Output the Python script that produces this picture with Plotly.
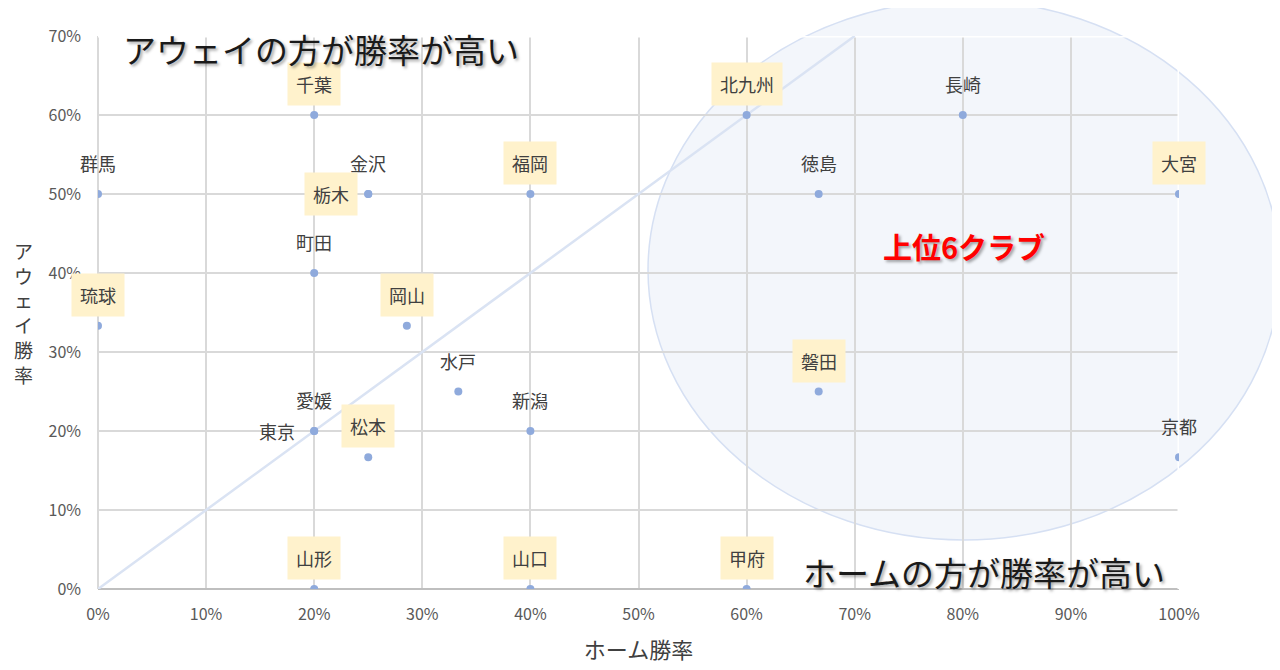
import plotly.graph_objects as go

# クラブ別 ホーム勝率 / アウェイ勝率
clubs = ["群馬", "琉球", "千葉", "町田", "愛媛", "東京", "山形", "金沢", "栃木", "松本",
         "岡山", "水戸", "福岡", "新潟", "山口", "北九州", "甲府", "徳島", "磐田", "長崎",
         "大宮", "京都"]
home_rate = [0.0, 0.0, 0.2, 0.2, 0.2, 0.2, 0.2, 0.25, 0.25, 0.25,
             2 / 7, 1 / 3, 0.4, 0.4, 0.4, 0.6, 0.6, 2 / 3, 2 / 3, 0.8,
             1.0, 1.0]
away_rate = [0.5, 1 / 3, 0.6, 0.4, 0.2, 0.2, 0.0, 0.5, 0.5, 1 / 6,
             1 / 3, 0.25, 0.5, 0.2, 0.0, 0.6, 0.0, 0.5, 0.25, 0.6,
             0.5, 1 / 6]
highlight = ["千葉", "琉球", "栃木", "松本", "岡山", "山形", "福岡", "山口",
             "北九州", "甲府", "磐田", "大宮"]
left_labels = ["栃木", "東京"]

diag_x = [0, 0.7]
diag_y = [0, 0.7]

font = "Noto Sans CJK JP"

fig = go.Figure()

# 対角線
fig.add_trace(go.Scatter(x=diag_x, y=diag_y, mode="lines",
                         line=dict(color="#dae3f3", width=2.5),
                         hoverinfo="skip", showlegend=False))

fig.add_trace(go.Scatter(x=home_rate, y=away_rate, mode="markers",
                         marker=dict(color="#8faadc", size=8),
                         text=clubs, showlegend=False))

# データラベル
for name, hx, ay in zip(clubs, home_rate, away_rate):
    hl = name in highlight
    if name in left_labels:
        xs, ys = -37, 0
    else:
        xs, ys = 0, 31
    fig.add_annotation(x=hx, y=ay, text=name, showarrow=False,
                       xshift=xs, yshift=ys, xanchor="center", yanchor="middle",
                       font=dict(family=font, size=18, color="#404040"),
                       bgcolor="#fff2cc" if hl else None,
                       borderpad=8 if hl else 2)

# 上位6クラブの円
fig.add_shape(type="circle", xref="paper", yref="paper",
              x0=0.5088, x1=1.0934, y0=0.0886, y1=1.065,
              fillcolor="rgba(218,227,243,0.32)",
              line=dict(color="#d6e0f3", width=1.5), layer="below")

# プロットエリアの上・右の縁 (白)
fig.add_shape(type="path", xref="x", yref="y", path="M 0,0.7 L 1,0.7 L 1,0",
              line=dict(color="white", width=3), layer="between")

shadow = "2px 2px 3px rgba(0,0,0,0.35)"
fig.add_annotation(xref="paper", yref="paper", x=0.206, y=0.977,
                   xanchor="center", yanchor="middle",
                   text="アウェイの方が勝率が高い", showarrow=False,
                   font=dict(family=font, size=33, color="#1a1a1a", shadow=shadow))
fig.add_annotation(xref="paper", yref="paper", x=0.8196, y=0.031,
                   xanchor="center", yanchor="middle",
                   text="ホームの方が勝率が高い", showarrow=False,
                   font=dict(family=font, size=33, color="#1a1a1a", shadow=shadow))
fig.add_annotation(xref="paper", yref="paper", x=0.801, y=0.62,
                   xanchor="center", yanchor="middle",
                   text="<b>上位6クラブ</b>", showarrow=False,
                   font=dict(family=font, size=29, color="#ff0000", shadow=shadow))

# 縦書きの軸タイトル
fig.add_annotation(xref="paper", yref="paper", x=-0.069, y=0.5,
                   xanchor="center", yanchor="middle",
                   text="ア<br>ウ<br>ェ<br>イ<br>勝<br>率", showarrow=False,
                   font=dict(family=font, size=19, color="#404040"))

fig.update_layout(
    width=1280, height=670,
    margin=dict(l=90, r=109, t=28, b=89),
    paper_bgcolor="white", plot_bgcolor="rgba(0,0,0,0)",
    font=dict(family=font, color="#595959"),
    xaxis=dict(range=[0, 1], dtick=0.1, tickformat=".0%",
               showgrid=True, gridcolor="#d9d9d9", gridwidth=1.5,
               zeroline=True, zerolinecolor="#d9d9d9", zerolinewidth=1.5,
               tickfont=dict(size=16, color="#595959"), ticklabelstandoff=14,
               title=dict(text="ホーム勝率", font=dict(size=22, color="#404040"),
                          standoff=18)),
    yaxis=dict(range=[0, 0.7], dtick=0.1, tickformat=".0%",
               showgrid=True, gridcolor="#d9d9d9", gridwidth=1.5,
               zeroline=True, zerolinecolor="#bfbfbf", zerolinewidth=1.5,
               tickfont=dict(size=16, color="#595959"), ticklabelstandoff=16),
)

fig.write_html("out.html")
